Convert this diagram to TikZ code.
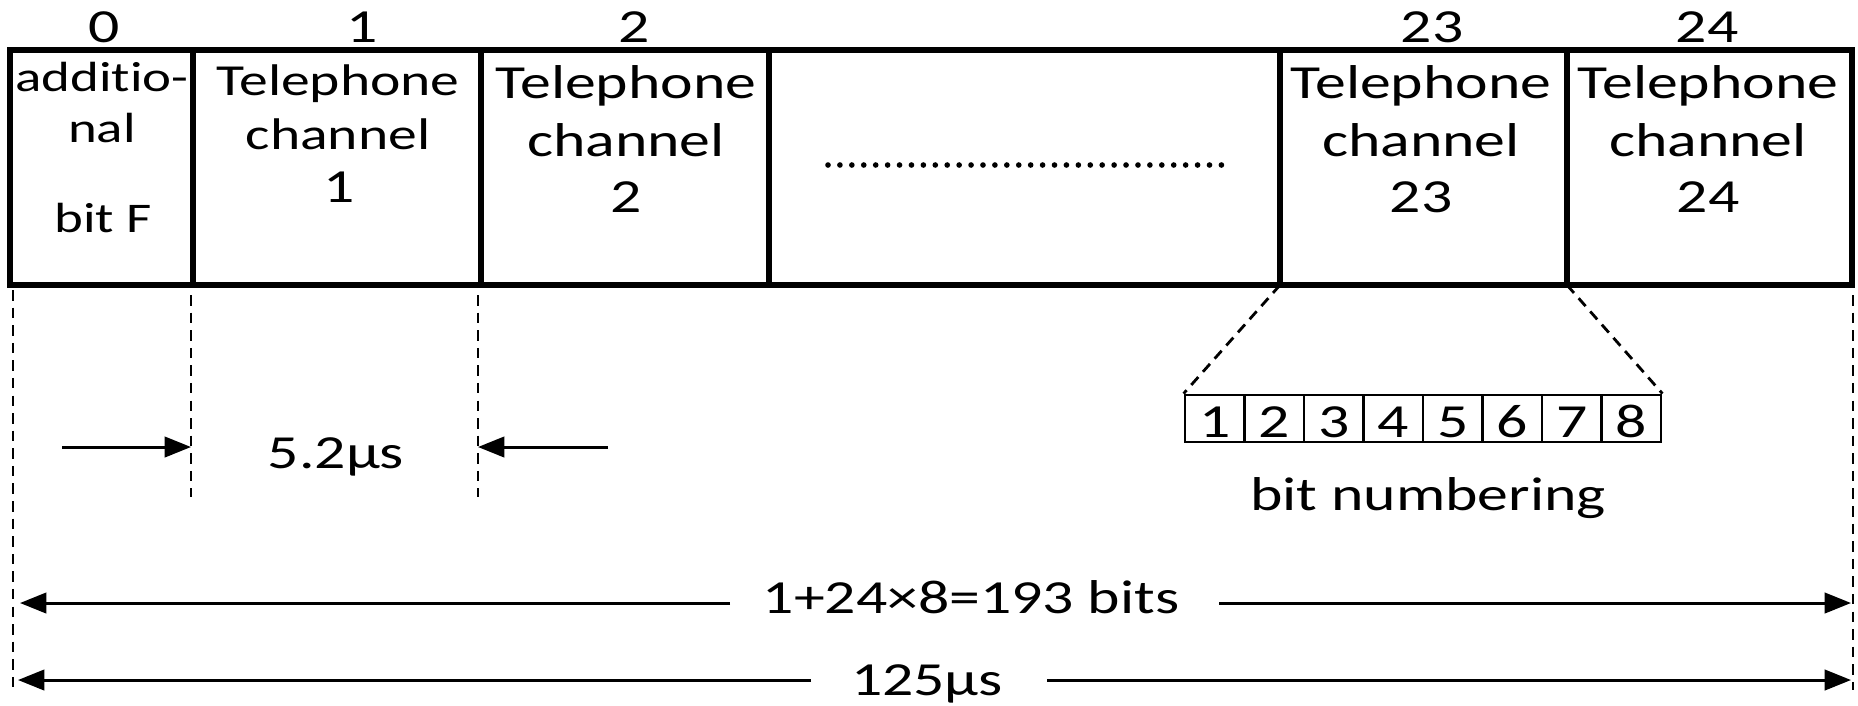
\documentclass[tikz,border=0pt]{standalone}
\usepackage{fontspec}
\setmainfont[FakeStretch=1.3, Ligatures=NoCommon]{Carlito}
\usetikzlibrary{arrows.meta}

\tikzset{
    lbl/.style={inner sep=0pt, anchor=base, font=\fontsize{13.5}{15}\selectfont},
    guide/.style={line width=0.8pt, dash pattern=on 3pt off 2pt},
    slotline/.style={line width=1.6pt},
    bitcell/.style={draw, minimum width=0.595cm, minimum height=0.47cm, inner sep=0pt, line width=0.8pt},
}

\begin{document}
\begin{tikzpicture}[x=0.01cm, y=-0.01cm, >={Triangle[length=7.5pt,width=5.8pt]}, line width=0.85pt]
    \useasboundingbox (0,0) rectangle (1858,705);
    \foreach \x/\n in {10/0, 193/1, 481/2, 769/3, 1280/23, 1567/24, 1852/25} {
        \coordinate (top\n) at (\x,50);
        \coordinate (bot\n) at (\x,285);
    }
    \draw[slotline] (top0) rectangle (bot25);
    \foreach \n in {1,2,3,23,24}
        \draw[slotline] (top\n) -- (bot\n);

    \foreach \x/\n in {104/0, 362/1, 634/2, 1432/23, 1707/24}
        \node[lbl] (num\n) at (\x,42) {\n};

    \node[lbl, font=\fontsize{12}{13}\selectfont] (add1) at (102,91) {additio-};
    \node[lbl, font=\fontsize{12}{13}\selectfont] (add2) at (102,142) {nal};
    \node[lbl, font=\fontsize{12}{13}\selectfont] (add3) at (103,232) {bit F};

    \node[lbl, font=\fontsize{12.6}{14}\selectfont] (tel1) at (338,95) {Telephone};
    \node[lbl, font=\fontsize{12.6}{14}\selectfont] (chn1) at (338,149) {channel};
    \node[lbl] (idx1) at (339,202) {1};
    \foreach \x/\n in {626/2, 1421/23, 1708/24} {
        \node[lbl] (tel\n) at (\x,98) {Telephone};
        \node[lbl] (chn\n) at (\x,156) {channel};
        \node[lbl] (idx\n) at (\x,212) {\n};
    }

    \coordinate (dotL) at (828,165);
    \coordinate (dotR) at (1223,165);
    \draw[line width=1.6pt, line cap=round, dash pattern=on 0pt off 3.39pt] (dotL) -- (dotR);

    \foreach \n/\x/\ya/\yb in {0/13/290/690, 1/191/295/497, 2/478/295/497, 25/1853/295/690} {
        \coordinate (ga\n) at (\x,\ya);
        \coordinate (gb\n) at (\x,\yb);
        \draw[guide] (ga\n) -- (gb\n);
    }

    \node[lbl] (slot) at (336,468) {5.2µs};
    \coordinate (sl) at (62,447);
    \coordinate (sr) at (608,447);
    \draw[->] (sl) -- (sl -| gb1);
    \draw[->] (sr) -- (sr -| gb2);

    \foreach \i in {1,...,8} {
        \node[bitcell] (bit\i) at ({1185+(\i-0.5)*59.5},418.5) {};
        \node[lbl] (d\i) at ({1185+(\i-0.5)*59.5},437) {\i};
    }
    \draw[guide] (bot23) -- (bit1.north west);
    \draw[guide] (bot24) -- (bit8.north east);
    \node[lbl] (bitnum) at (1428,510) {bit numbering};

    \node[lbl] (bits) at (971,613) {1+24×8=193 bits};
    \coordinate (bl) at (730,603);
    \coordinate (blend) at (20,603);
    \coordinate (br) at (1219,603);
    \coordinate (brend) at (1851,603);
    \draw[->] (bl) -- (blend);
    \draw[->] (br) -- (brend);

    \node[lbl] (period) at (927,695) {125µs};
    \coordinate (pl) at (811,680);
    \coordinate (plend) at (18,680);
    \coordinate (pr) at (1047,680);
    \coordinate (prend) at (1851,680);
    \draw[->] (pl) -- (plend);
    \draw[->] (pr) -- (prend);
\end{tikzpicture}
\end{document}
